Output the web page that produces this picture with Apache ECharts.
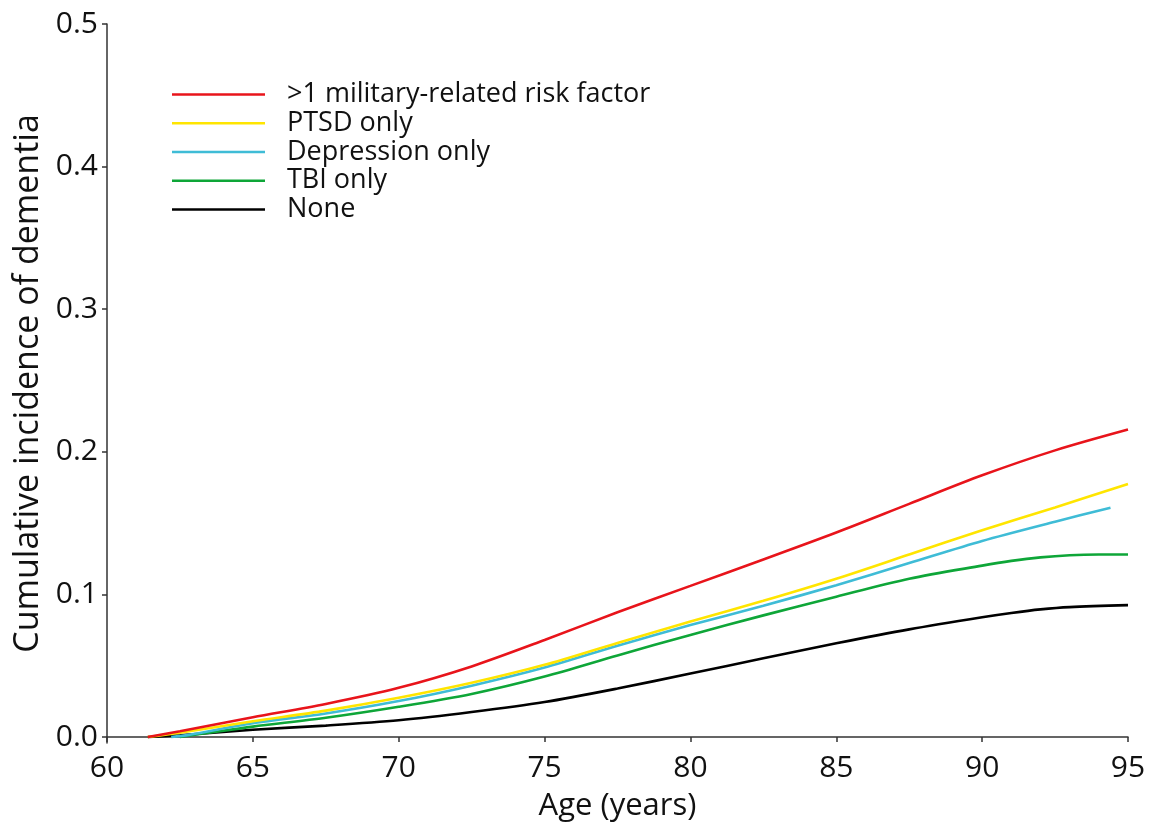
<!DOCTYPE html>
<html>
<head>
<meta charset="utf-8">
<script src="https://cdn.jsdelivr.net/npm/echarts@6/dist/echarts.min.js"></script>
<style>
html,body{margin:0;padding:0;background:#fff;}
#chart{width:1154px;height:827px;}
</style>
</head>
<body>
<div id="chart"></div>
<script>
const seriesNames = ['>1 military-related risk factor', 'PTSD only', 'Depression only', 'TBI only', 'None'];
const seriesColors = ['#e8141b', '#ffe500', '#3fbcd6', '#0ea638', '#000000'];

const agesRed = [61.4, 62.5, 65, 67.5, 70, 72.5, 75, 77.5, 80, 82.5, 85, 87.5, 90, 92.5, 95];
const valsRed = [0.0, 0.004, 0.0138, 0.0232, 0.0345, 0.0495, 0.068, 0.0875, 0.106, 0.1245, 0.1434, 0.1635, 0.1835, 0.201, 0.2156];

const agesYellow = [61.4, 62.5, 65, 67.5, 70, 72.5, 75, 77.5, 80, 82.5, 85, 87.5, 90, 92.5, 95];
const valsYellow = [0.0, 0.003, 0.011, 0.0185, 0.0275, 0.038, 0.0506, 0.066, 0.081, 0.0955, 0.111, 0.128, 0.145, 0.161, 0.1774];

const agesCyan = [62.2, 62.8, 65, 67.5, 70, 72.5, 75, 77.5, 80, 82.5, 85, 87.5, 90, 92.5, 94.4];
const valsCyan = [0.0, 0.0015, 0.0097, 0.0165, 0.0252, 0.036, 0.0487, 0.064, 0.0785, 0.092, 0.1065, 0.122, 0.1375, 0.151, 0.1608];

const agesGreen = [62.5, 63.5, 65, 67.5, 70, 72.5, 75, 77.5, 80, 82.5, 85, 87.5, 90, 91, 92, 93, 94, 95];
const valsGreen = [0.0, 0.003, 0.0073, 0.0135, 0.0212, 0.0302, 0.0424, 0.0572, 0.0716, 0.0853, 0.0984, 0.111, 0.1202, 0.1235, 0.126, 0.1275, 0.128, 0.128];

const agesBlack = [61.4, 62.5, 65, 67.5, 70, 72.5, 75, 77.5, 80, 82.5, 85, 87.5, 90, 91, 92, 93, 95];
const valsBlack = [0.0, 0.0012, 0.0051, 0.008, 0.0117, 0.0175, 0.0245, 0.034, 0.0445, 0.0552, 0.0657, 0.0755, 0.084, 0.087, 0.0895, 0.0911, 0.0925];

const xTicks = [60, 65, 70, 75, 80, 85, 90, 95];
const yTicks = [0.0, 0.1, 0.2, 0.3, 0.4, 0.5];

const ageSets = [agesRed, agesYellow, agesCyan, agesGreen, agesBlack];
const valSets = [valsRed, valsYellow, valsCyan, valsGreen, valsBlack];

const FONT = 'Open Sans';
const chart = echarts.init(document.getElementById('chart'), null, {renderer: 'canvas'});

const series = seriesNames.map((name, i) => ({
  name: name,
  type: 'line',
  smooth: 0.3,
  showSymbol: false,
  symbol: 'none',
  data: ageSets[i].map((a, j) => [a, valSets[i][j]]),
  lineStyle: {color: seriesColors[i], width: 2.6},
  itemStyle: {color: seriesColors[i]},
  z: 10 - i,
  animation: false
}));

chart.setOption({
  animation: false,
  backgroundColor: '#ffffff',
  grid: {left: 107, right: 26, top: 24, bottom: 82, containLabel: false},
  legend: {
    show: true,
    orient: 'vertical',
    left: 172,
    top: 80,
    padding: 0,
    itemGap: 0,
    icon: 'rect',
    itemWidth: 93,
    itemHeight: 2.5,
    data: seriesNames,
    textStyle: {fontFamily: FONT, fontSize: 27, color: '#111', lineHeight: 28.8, padding: [0, 0, 0, 17]}
  },
  xAxis: {
    type: 'value',
    min: 60,
    max: 95,
    interval: 5,
    name: 'Age (years)',
    nameLocation: 'middle',
    nameGap: 48,
    nameTextStyle: {fontFamily: FONT, fontSize: 31, color: '#111'},
    axisLine: {show: true, lineStyle: {color: '#333', width: 1.5}},
    axisTick: {show: true, length: 5, lineStyle: {color: '#333', width: 1.5}, customValues: xTicks},
    axisLabel: {fontFamily: FONT, fontSize: 30, color: '#111', margin: 10, customValues: xTicks},
    splitLine: {show: false}
  },
  yAxis: {
    type: 'value',
    min: -0.0042,
    max: 0.5,
    name: 'Cumulative incidence of dementia',
    nameLocation: 'middle',
    nameGap: 61,
    nameTextStyle: {fontFamily: FONT, fontSize: 34, color: '#111'},
    axisLine: {show: true, lineStyle: {color: '#333', width: 1.5}},
    axisTick: {show: true, length: 5, lineStyle: {color: '#333', width: 1.5}, customValues: yTicks},
    axisLabel: {fontFamily: FONT, fontSize: 30, color: '#111', margin: 9, customValues: yTicks,
      formatter: v => v.toFixed(1)},
    splitLine: {show: false}
  },
  series: series
});
</script>
</body>
</html>
